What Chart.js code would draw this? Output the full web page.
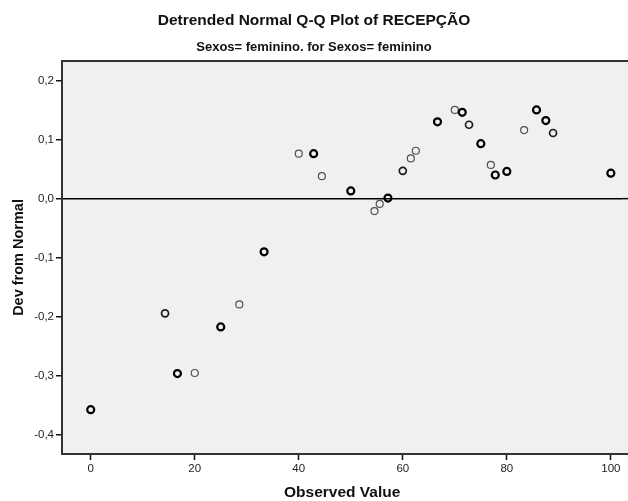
<!DOCTYPE html>
<html>
<head>
<meta charset="utf-8">
<script src="https://cdn.jsdelivr.net/npm/chart.js@4"></script>
<style>
  html, body { margin: 0; padding: 0; background: #ffffff; }
  #wrap { width: 628px; height: 501px; }
</style>
</head>
<body>
<div id="wrap"><canvas id="qqChart" width="628" height="501"></canvas></div>
<script>
// ===============================
// DETRENDED NORMAL Q-Q PLOT
// ===============================

// observed values (RECEPÇÃO scores)
const observedValues = [0, 14.29, 16.67, 20, 25, 28.57, 33.33, 40, 42.86, 44.44, 50, 54.55, 55.56, 57.14, 60,
    61.54, 62.5, 66.67, 70, 71.43, 72.73, 75, 76.92, 77.78, 80, 83.33, 85.71, 87.5, 88.89, 100];

// deviation from normal
const devFromNormal = [-0.357, -0.194, -0.296, -0.295, -0.217, -0.179, -0.090, 0.076, 0.076, 0.038, 0.013, -0.021, -0.009, 0.001, 0.047,
    0.068, 0.081, 0.130, 0.150, 0.146, 0.125, 0.093, 0.057, 0.040, 0.046, 0.116, 0.150, 0.132, 0.111, 0.043];

// how many cases share each value (overlapping markers look darker)
const caseCounts = [3, 2, 3, 1, 3, 1, 3, 1, 3, 1, 3, 1, 1, 3, 2,
    1, 1, 3, 1, 3, 2, 3, 1, 3, 3, 1, 3, 3, 2, 3];

const xTickValues = [0, 20, 40, 60, 80, 100];
const yTickValues = [-0.4, -0.3, -0.2, -0.1, 0.0, 0.1, 0.2];

const points = observedValues.map((v, i) => ({ x: v, y: devFromNormal[i] }));

// grey plot background + top frame line (runs on to the right edge like the original)
const plotFrame = {
    id: "plotFrame",
    beforeDraw(chart) {
        const { ctx, chartArea: a } = chart;
        ctx.save();
        ctx.fillStyle = "#f0f0f0";
        ctx.fillRect(a.left, a.top, chart.width - a.left, a.bottom - a.top);
        ctx.restore();
    },
    afterDraw(chart) {
        const { ctx, chartArea: a } = chart;
        ctx.save();
        ctx.strokeStyle = "#333333";
        ctx.lineWidth = 2;
        ctx.beginPath();
        ctx.moveTo(a.left, a.top);
        ctx.lineTo(chart.width, a.top);
        ctx.moveTo(a.right, a.bottom);
        ctx.lineTo(chart.width, a.bottom);
        ctx.stroke();
        ctx.strokeStyle = "#000000";
        ctx.lineWidth = 1.5;
        const y0 = chart.scales.y.getPixelForValue(0);
        ctx.beginPath();
        ctx.moveTo(a.right, y0);
        ctx.lineTo(chart.width, y0);
        ctx.stroke();
        ctx.restore();
    }
};

const font = "'Liberation Sans', Arial, sans-serif";

new Chart(document.getElementById("qqChart"), {
    type: "scatter",
    data: {
        datasets: [{
            label: "RECEPÇÃO",
            data: points,
            pointRadius: 3.5,
            pointHoverRadius: 3.5,
            backgroundColor: "rgba(0,0,0,0)",
            borderColor: c => {
                const n = caseCounts[c.dataIndex];
                return n >= 3 ? "#000000" : (n === 2 ? "#1a1a1a" : "#505050");
            },
            borderWidth: c => {
                const n = caseCounts[c.dataIndex];
                return n >= 3 ? 2.2 : (n === 2 ? 1.7 : 1.2);
            }
        }]
    },
    options: {
        responsive: false,
        animation: false,
        layout: { padding: 0 },
        plugins: {
            legend: { display: false },
            tooltip: { enabled: false },
            title: {
                display: true,
                text: "Detrended Normal Q-Q Plot of RECEPÇÃO",
                color: "#111111",
                font: { family: font, size: 15.5, weight: "bold" },
                padding: { top: 11, bottom: 5 }
            },
            subtitle: {
                display: true,
                text: "Sexos= feminino. for Sexos= feminino",
                color: "#111111",
                font: { family: font, size: 13, weight: "bold", lineHeight: 1.1 },
                padding: { top: 6, bottom: 6 }
            }
        },
        scales: {
            x: {
                type: "linear",
                min: -5.52,
                max: 102.2,
                afterFit: s => { s.height = 47; },
                afterBuildTicks: s => { s.ticks = xTickValues.map(v => ({ value: v })); },
                border: { color: "#333333", width: 2 },
                grid: {
                    drawOnChartArea: false,
                    tickLength: 6,
                    tickColor: "#111111",
                    tickWidth: 1.5
                },
                ticks: {
                    color: "#222222",
                    padding: 2,
                    maxRotation: 0,
                    font: { family: font, size: 11.5 }
                },
                title: {
                    display: true,
                    text: "Observed Value",
                    color: "#111111",
                    font: { family: font, size: 15.5, weight: "bold", lineHeight: 1.1 },
                    padding: { top: 4, bottom: 0 }
                }
            },
            y: {
                type: "linear",
                min: -0.432,
                max: 0.233,
                afterFit: s => { s.width = 62; },
                afterBuildTicks: s => { s.ticks = yTickValues.map(v => ({ value: v })); },
                border: { color: "#333333", width: 2 },
                grid: {
                    color: c => (c.tick && Math.abs(c.tick.value) < 1e-9) ? "#000000" : "rgba(0,0,0,0)",
                    lineWidth: 1.5,
                    tickLength: 6,
                    tickColor: "#111111",
                    tickWidth: 1.5
                },
                ticks: {
                    color: "#222222",
                    padding: 2,
                    font: { family: font, size: 11.5 },
                    callback: v => v.toFixed(1).replace(".", ",")
                },
                title: {
                    display: true,
                    text: "Dev from Normal",
                    color: "#111111",
                    font: { family: font, size: 14.5, weight: "bold" },
                    padding: { top: 10, bottom: 0 }
                }
            }
        }
    },
    plugins: [plotFrame]
});
</script>
</body>
</html>
